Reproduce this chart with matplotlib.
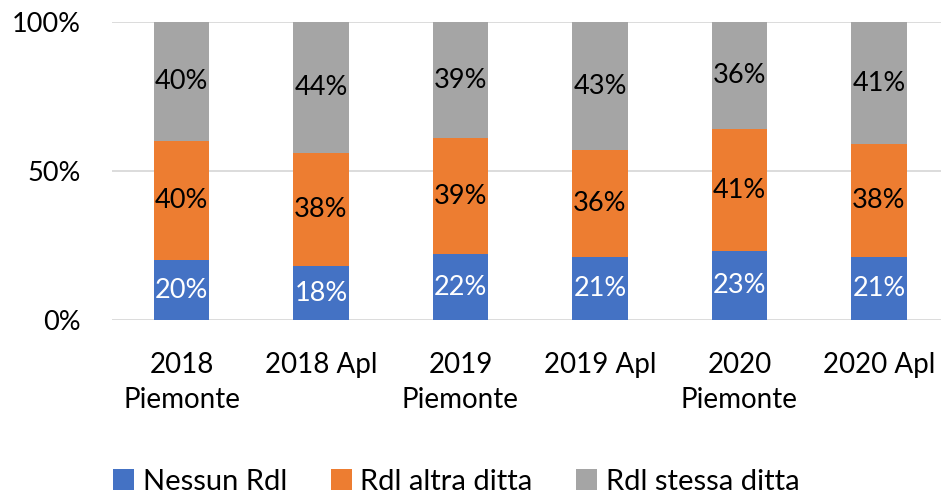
import matplotlib
matplotlib.use("Agg")
import matplotlib.pyplot as plt
import numpy as np

categories = ["2018\nPiemonte", "2018 Apl", "2019\nPiemonte", "2019 Apl", "2020\nPiemonte", "2020 Apl"]
nessun = [20, 18, 22, 21, 23, 21]
altra = [40, 38, 39, 36, 41, 38]
stessa = [40, 44, 39, 43, 36, 41]
series_names = ["Nessun Rdl", "Rdl altra ditta", "Rdl stessa ditta"]
colors = ["#4472C4", "#ED7D31", "#A5A5A5"]
label_colors = ["white", "black", "black"]

plt.rcParams['font.family'] = ['Lato', 'DejaVu Sans']
fs = 19.5

fig = plt.figure(figsize=(9.41, 4.95), dpi=100)
ax = fig.add_axes([111.75/941, 175/495, 837/941, 298/495])

x = np.arange(len(categories))
bottom = np.zeros(len(categories))
handles = []
for vals, c, lc, name in zip([nessun, altra, stessa], colors, label_colors, series_names):
    v = np.array(vals, dtype=float)
    bars = ax.bar(x, v, bottom=bottom, width=0.395, color=c, label=name, zorder=3)
    for xi, b, h in zip(x, bottom, v):
        ax.text(xi, b + h / 2, f"{int(h)}%", ha="center", va="center", color=lc, fontsize=fs, zorder=4)
    bottom += v
    handles.append(bars)

ax.set_xlim(-0.5, len(categories) - 0.5)
ax.set_ylim(0, 100)
ax.set_yticks([0, 50, 100])
ax.set_yticklabels(["0%", "50%", "100%"], fontsize=fs)
ax.set_xticks(x)
ax.set_xticklabels(categories, fontsize=20, linespacing=1.45)
ax.tick_params(axis="y", length=0, pad=22)
ax.tick_params(axis="x", length=0, pad=23)
ax.grid(axis="y", color="#D9D9D9", linewidth=1.3, zorder=0)
for s in ax.spines.values():
    s.set_visible(False)

leg = fig.legend(handles=handles, labels=series_names, loc="center", bbox_to_anchor=(0.485, 13/495),
                 ncol=3, frameon=False, fontsize=21, handlelength=0.72, handleheight=0.72,
                 handletextpad=0.3, columnspacing=1.5)

fig.savefig("out.png", dpi=100)
